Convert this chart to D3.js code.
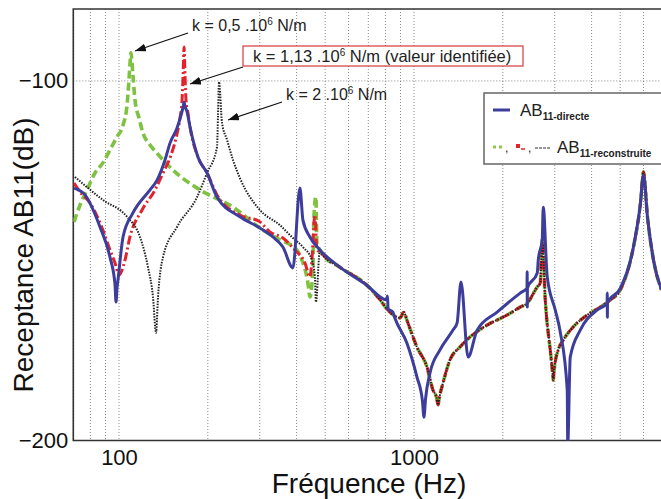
<!DOCTYPE html>
<html lang="fr">
<head>
<meta charset="utf-8">
<title>Receptance AB11</title>
<script src="https://cdn.jsdelivr.net/npm/d3@7"></script>
<style>
body { margin: 0; background: #fff; }
text { font-family: "Liberation Sans", Arial, sans-serif; }
</style>
</head>
<body>
<script>

// AB11 directe (mesure)
var blueFreq = [70.4, 76.7, 86.2, 93.2, 96.9, 97.7, 98.5, 99.2, 103.2, 111.5, 127.4, 134.6, 143.2, 148.9, 157.3, 162.3, 165.2, 166.2, 167.3, 170.1, 174.1, 185.3, 198.8, 214.9, 256.9, 300.4, 332.4, 359.5, 388.7, 410.5, 420.2, 443.9, 479.8, 560.7, 691.6, 809, 813, 817, 848, 861, 946, 1023, 1068, 1081, 1094, 1133, 1225, 1356, 1400, 1443, 1525, 1637, 1913, 2291, 2416, 2419, 2421, 2424, 2617, 2638, 2721, 2742, 2829, 3012, 3132, 3307, 3320, 3386, 3661, 4182, 4516, 4520, 4524, 4528, 5005, 5544, 5857, 5996, 6186, 6484, 6900];
var blueDb = [-129.8, -131.7, -140.6, -149.0, -156.5, -161.5, -157.5, -155.4, -143.4, -136.7, -130.3, -127.6, -122.0, -117.3, -113.1, -109.5, -107.0, -105.9, -107.0, -108.6, -112.8, -121.2, -125.6, -132.3, -137.8, -140.9, -143.4, -146.2, -152.0, -129.8, -138.7, -143.4, -147.0, -151.8, -156.8, -160.9, -159.8, -163.4, -164.3, -165.9, -172.9, -182.3, -189.0, -193.5, -188.5, -181.2, -174.8, -169.3, -167.3, -155.9, -176.8, -169.3, -164.3, -159.0, -157.6, -153.1, -162.9, -157.6, -153.4, -149.8, -144.2, -135.1, -154.5, -163.7, -169.8, -186.0, -201, -176.8, -169.3, -163.7, -161.8, -159.0, -165.7, -161.8, -157.6, -146.2, -134.0, -126.2, -137.8, -149.8, -158.1];

// reconstructions, partie basse frequence
var greenFreq = [70.4, 73.8, 77.9, 82.9, 88.2, 93.2, 98.4, 103.2, 106.5, 108.1, 108.9, 109.8, 111.5, 113.3, 116.9, 120.6, 127.4, 134.6, 152.4, 188.2, 243.5, 307.5, 351.2, 401.0, 417.0, 436.9, 443.9, 454.3, 457.9, 465.1, 468.7, 479.8];
var greenDb = [-139.2, -134.5, -130.3, -125.6, -122.8, -119.2, -115.6, -112.3, -106.7, -99.7, -95.6, -92.2, -98.4, -105.3, -110.3, -114.5, -117.8, -120.1, -124.8, -130.3, -135.1, -141.5, -144.2, -147.0, -149.8, -156.2, -160.1, -151.8, -137.8, -132.3, -145.1, -147.0];

var redFreq = [70.4, 73.8, 79.9, 88.2, 93.2, 96.9, 100.0, 104.8, 108.9, 119.7, 132.5, 141.0, 148.9, 156.0, 161.0, 163.6, 164.9, 166.2, 167.4, 168.7, 171.3, 174.1, 185.3, 198.8, 214.9, 256.9, 300.4, 324.7, 359.5, 394.8, 426.8, 443.9, 450.8, 461.5, 468.7, 479.8];
var redDb = [-128.4, -130.9, -134.0, -141.5, -147.0, -150.6, -154.0, -149.8, -143.4, -135.9, -130.3, -125.6, -121.4, -115.9, -110.3, -105.3, -98.4, -90.6, -98.4, -105.3, -108.9, -112.8, -121.2, -125.6, -131.7, -137.3, -139.2, -142.0, -143.7, -147.0, -150.6, -154.5, -149.8, -137.3, -147.0, -147.6];

var blackFreq = [70.9, 88.2, 106.5, 117.8, 125.4, 130.4, 133.5, 135.6, 141.0, 157.3, 183.9, 198.8, 214.9, 216.6, 218.3, 223.5, 232.4, 243.5, 256.9, 300.4, 351.2, 388.7, 420.2, 450.8, 461.5, 465.1, 479.8];
var blackDb = [-126.7, -133.1, -137.8, -143.4, -151.8, -160.1, -170.1, -160.1, -149.0, -140.6, -132.3, -125.6, -118.4, -109.5, -100.3, -111.7, -116.4, -122.0, -127.0, -135.9, -140.1, -143.7, -146.2, -149.8, -154.5, -161.5, -147.0];

// partie commune aux trois reconstructions
var commonFreq = [491.2, 560.7, 691.6, 767.6, 815.4, 895.7, 924, 946, 1023, 1107, 1160, 1192, 1206, 1222, 1254, 1324, 1432, 1549, 1770, 2069, 2291, 2420, 2617, 2679, 2721, 2786, 2896, 2945, 2965, 2990, 3083, 3205, 3466, 3867, 4281, 4629, 5005, 5544, 5857, 5996, 6186, 6484, 6900];
var commonDb = [-148.4, -151.8, -156.8, -160.9, -163.7, -165.9, -164.3, -166.5, -174.0, -179.6, -186.0, -188.0, -190.1, -187.6, -184.0, -177.6, -174.0, -171.2, -167.9, -165.1, -162.9, -161.8, -157.3, -156.2, -144.2, -160.9, -174.8, -180.5, -183.2, -180.0, -174.8, -172.1, -168.4, -165.1, -162.9, -160.9, -158.1, -146.2, -134.0, -125.3, -137.8, -149.8, -158.1];

var xTickLabels = [100, 1000];
var yTickLabels = [-200, -100];

var w = 661;
var h = 499;
var pLeft = 73.3, pRight = 663.3, pTop = 9, pBottom = 440.5;

var svg = d3.select("body")
	.append("svg")
	.attr("width", w)
	.attr("height", h);

var xScale = d3.scaleLog().domain([70, 7000]).range([pLeft, pRight]);
var yScale = d3.scaleLinear().domain([-200, -80]).range([pBottom, pTop]);

// grid
svg.append("g")
	.selectAll("line")
	.data(xScale.ticks())
	.enter()
	.append("line")
	.attr("x1", function(d) { return xScale(d); })
	.attr("x2", function(d) { return xScale(d); })
	.attr("y1", pTop)
	.attr("y2", pBottom)
	.attr("stroke", "#8a8a8a")
	.attr("stroke-width", 1)
	.attr("stroke-dasharray", "1,2");

svg.append("line")
	.attr("x1", pLeft)
	.attr("x2", w)
	.attr("y1", yScale(-100))
	.attr("y2", yScale(-100))
	.attr("stroke", "#8a8a8a")
	.attr("stroke-dasharray", "1,2");

// axes
var xAxis = d3.axisBottom(xScale).tickValues(xTickLabels).tickSize(0).tickPadding(9).tickFormat(d3.format("d"));
var yAxis = d3.axisLeft(yScale).tickValues(yTickLabels).tickSize(0).tickPadding(5);

var gx = svg.append("g")
	.attr("transform", "translate(0," + pBottom + ")")
	.call(xAxis);
var gy = svg.append("g")
	.attr("transform", "translate(" + pLeft + ",0)")
	.call(yAxis);
gx.select(".domain").remove();
gy.select(".domain").remove();
svg.selectAll(".tick text")
	.attr("font-size", "22px")
	.attr("font-family", "Liberation Sans, Arial, sans-serif")
	.attr("fill", "#111");

// frame
svg.append("path")
	.attr("d", "M" + w + "," + pTop + "H" + pLeft + "V" + pBottom + "H" + w)
	.attr("fill", "none")
	.attr("stroke", "#333")
	.attr("stroke-width", 1.6);

// curves
svg.append("clipPath").attr("id", "clip")
	.append("rect")
	.attr("x", pLeft).attr("y", pTop)
	.attr("width", pRight - pLeft).attr("height", pBottom - pTop);

function pairs(f, db) {
	return f.map(function(d, i) { return [d, db[i]]; });
}
var line = d3.line()
	.curve(d3.curveMonotoneX)
	.x(function(d) { return xScale(d[0]); })
	.y(function(d) { return yScale(d[1]); });

var curves = svg.append("g").attr("clip-path", "url(#clip)");

curves.append("path")
	.attr("d", line(pairs(greenFreq.concat(commonFreq), greenDb.concat(commonDb))))
	.attr("fill", "none")
	.attr("stroke", "#7fc241")
	.attr("stroke-width", 3.6)
	.attr("stroke-dasharray", "8,4");

curves.append("path")
	.attr("d", line(pairs(redFreq.concat(commonFreq), redDb.concat(commonDb))))
	.attr("fill", "none")
	.attr("stroke", "#e3232b")
	.attr("stroke-width", 3)
	.attr("stroke-dasharray", "9,3,2,3");

curves.append("path")
	.attr("d", line(pairs(blackFreq.concat(commonFreq), blackDb.concat(commonDb))))
	.attr("fill", "none")
	.attr("stroke", "#222")
	.attr("stroke-width", 2)
	.attr("stroke-dasharray", "1.5,1.3");

curves.append("path")
	.attr("d", line(pairs(blueFreq, blueDb)))
	.attr("fill", "none")
	.attr("stroke", "#3d3d9c")
	.attr("stroke-width", 3)
	.attr("stroke-linejoin", "round");

// labels
svg.append("text")
	.text("Fréquence (Hz)")
	.attr("x", 369)
	.attr("y", 493)
	.attr("text-anchor", "middle")
	.attr("font-size", "28px")
	.attr("fill", "#111");

svg.append("text")
	.text("Receptance AB11(dB)")
	.attr("transform", "translate(33,255) rotate(-90)")
	.attr("text-anchor", "middle")
	.attr("font-size", "28px")
	.attr("fill", "#111");

// annotations
svg.append("defs").append("marker")
	.attr("id", "arrow")
	.attr("markerUnits", "userSpaceOnUse")
	.attr("markerWidth", 12).attr("markerHeight", 10)
	.attr("refX", 11).attr("refY", 4)
	.attr("orient", "auto")
	.append("path")
	.attr("d", "M0,0L11,4L0,8Z")
	.attr("fill", "#111");

var arrows = [[188, 33, 135, 51], [243, 67, 190, 84], [282, 102, 228, 120]];
svg.selectAll(".arr")
	.data(arrows)
	.enter()
	.append("line")
	.attr("x1", function(d) { return d[0]; })
	.attr("y1", function(d) { return d[1]; })
	.attr("x2", function(d) { return d[2]; })
	.attr("y2", function(d) { return d[3]; })
	.attr("stroke", "#111")
	.attr("stroke-width", 1.3)
	.attr("marker-end", "url(#arrow)");

svg.append("rect")
	.attr("x", 243).attr("y", 46)
	.attr("width", 280).attr("height", 20)
	.attr("fill", "#fff")
	.attr("stroke", "#d9474b")
	.attr("stroke-width", 1.3);

function annot(x, y, size, before, after) {
	var t = svg.append("text")
		.attr("x", x).attr("y", y)
		.attr("font-size", size + "px")
		.attr("fill", "#222");
	t.append("tspan").text(before + "10");
	t.append("tspan").text("6").attr("font-size", "10px").attr("dy", -6);
	t.append("tspan").text(" " + after).attr("dy", 6);
}
annot(192, 31, 16, "k = 0,5 .", "N/m");
annot(253, 62, 16.5, "k = 1,13 .", "N/m (valeur identifiée)");
annot(286, 100, 16, "k = 2 .", "N/m");

// legend
var lg = svg.append("g");
lg.append("rect")
	.attr("x", 484).attr("y", 93)
	.attr("width", 200).attr("height", 71)
	.attr("fill", "#fff")
	.attr("stroke", "#666")
	.attr("stroke-width", 1.5);
lg.append("line")
	.attr("x1", 493).attr("x2", 510)
	.attr("y1", 110).attr("y2", 110)
	.attr("stroke", "#3d3d9c").attr("stroke-width", 3);
var t1 = lg.append("text").attr("x", 520).attr("y", 115.5).attr("font-size", "17px").attr("fill", "#222");
t1.append("tspan").text("AB");
t1.append("tspan").text("11-directe").attr("font-size", "10px").attr("font-weight", "bold").attr("dy", 4);

lg.append("line")
	.attr("x1", 493).attr("x2", 503)
	.attr("y1", 147).attr("y2", 147)
	.attr("stroke", "#8cc84b").attr("stroke-width", 3).attr("stroke-dasharray", "3,3");
lg.append("text").text(",").attr("x", 505).attr("y", 152).attr("font-size", "12px").attr("fill", "#222");
lg.append("rect").attr("x", 516).attr("y", 144).attr("width", 4).attr("height", 4).attr("fill", "#e3232b");
lg.append("line")
	.attr("x1", 521).attr("x2", 525)
	.attr("y1", 149).attr("y2", 149)
	.attr("stroke", "#e3232b").attr("stroke-width", 1.5);
lg.append("text").text(",").attr("x", 528).attr("y", 152).attr("font-size", "12px").attr("fill", "#222");
lg.append("line")
	.attr("x1", 535).attr("x2", 551)
	.attr("y1", 148).attr("y2", 148)
	.attr("stroke", "#333").attr("stroke-width", 1.2).attr("stroke-dasharray", "3,1");
var t2 = lg.append("text").attr("x", 557).attr("y", 153).attr("font-size", "17px").attr("fill", "#222");
t2.append("tspan").text("AB");
t2.append("tspan").text("11-reconstruite").attr("font-size", "10px").attr("font-weight", "bold").attr("dy", 4);

</script>
</body>
</html>
